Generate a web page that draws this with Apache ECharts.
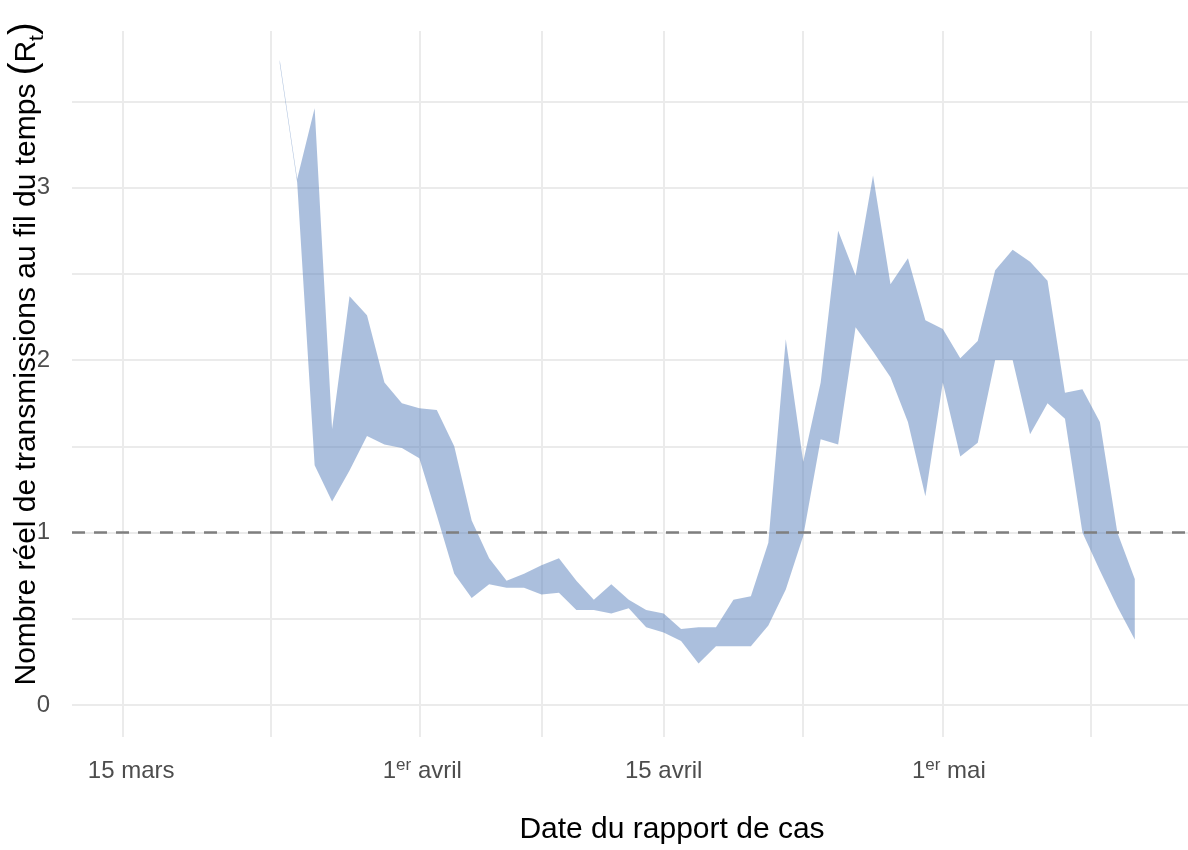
<!DOCTYPE html>
<html>
<head>
<meta charset="utf-8">
<script src="https://cdn.jsdelivr.net/npm/echarts@6/dist/echarts.min.js"></script>
<style>
  html, body { margin: 0; padding: 0; background: #ffffff; }
  #chart { width: 1188px; height: 850px; }
</style>
</head>
<body>
<div id="chart"></div>
<script>
// Daily report dates and the credible band of the effective reproduction number (Rt)
const dates = [
  '2020-03-24', '2020-03-25', '2020-03-26', '2020-03-27', '2020-03-28', '2020-03-29', '2020-03-30', '2020-03-31',
  '2020-04-01', '2020-04-02', '2020-04-03', '2020-04-04', '2020-04-05', '2020-04-06', '2020-04-07', '2020-04-08',
  '2020-04-09', '2020-04-10', '2020-04-11', '2020-04-12', '2020-04-13', '2020-04-14', '2020-04-15', '2020-04-16',
  '2020-04-17', '2020-04-18', '2020-04-19', '2020-04-20', '2020-04-21', '2020-04-22', '2020-04-23', '2020-04-24',
  '2020-04-25', '2020-04-26', '2020-04-27', '2020-04-28', '2020-04-29', '2020-04-30', '2020-05-01', '2020-05-02',
  '2020-05-03', '2020-05-04', '2020-05-05', '2020-05-06', '2020-05-07', '2020-05-08', '2020-05-09', '2020-05-10',
  '2020-05-11', '2020-05-12'
];
const lower = [
  3.72, 3.03, 1.39, 1.18, 1.36, 1.56, 1.51, 1.49,
  1.43, 1.10, 0.76, 0.62, 0.70, 0.68, 0.68, 0.64,
  0.65, 0.55, 0.55, 0.53, 0.56, 0.45, 0.42, 0.37,
  0.24, 0.34, 0.34, 0.34, 0.46, 0.67, 0.98, 1.54,
  1.51, 2.19, 2.05, 1.90, 1.64, 1.21, 1.87, 1.44,
  1.52, 2.00, 2.00, 1.57, 1.75, 1.66, 1.00, 0.78,
  0.57, 0.38
];
const upper = [
  3.74, 3.05, 3.46, 1.60, 2.37, 2.26, 1.87, 1.75,
  1.72, 1.71, 1.50, 1.07, 0.85, 0.72, 0.76, 0.81,
  0.85, 0.72, 0.61, 0.70, 0.61, 0.55, 0.53, 0.44,
  0.45, 0.45, 0.61, 0.63, 0.94, 2.12, 1.41, 1.87,
  2.75, 2.49, 3.07, 2.44, 2.59, 2.23, 2.18, 2.01,
  2.11, 2.52, 2.64, 2.57, 2.46, 1.81, 1.83, 1.64,
  1.00, 0.73
];

// Reference level Rt = 1
const threshold = 1;

// Axis ticks and labels
const xMajorTicks = ['2020-03-15', '2020-04-01', '2020-04-15', '2020-05-01'];
const xMajorLabels = ['{m|15 mars}', '{a|1}{sup|er} avril', '15 avril', '{b|1}{sup|er} mai'];
const xMinorTicks = ['2020-03-23 12:00', '2020-04-08', '2020-04-23', '2020-05-09 11:00'];
const xRange = ['2020-03-12 02:17', '2020-05-15 01:12'];
const yMajorTicks = [0, 1, 2, 3];
const yMinorTicks = [0.5, 1.5, 2.5, 3.5];
const yRange = [-0.186, 3.908];

// Dates are placed on a linear millisecond scale
const parseTime = (s) => +echarts.time.parse(s);
const dateTs = dates.map(parseTime);
const xMajorTs = xMajorTicks.map(parseTime);
const xMinorTs = xMinorTicks.map(parseTime);

const FONT = 'Liberation Sans';
const TICK_COLOR = '#4d4d4d';
const GRID_STYLE = { color: '#ebebeb', width: 2, type: 'solid' };
const tickText = (extra) => Object.assign({ fontSize: 24, fontFamily: FONT, color: TICK_COLOR, lineHeight: 30 }, extra);

const chart = echarts.init(document.getElementById('chart'), null, { renderer: 'canvas' });

chart.setOption({
  animation: false,
  backgroundColor: '#ffffff',
  grid: { left: 72, right: 0, top: 31, bottom: 113, containLabel: false, outerBoundsMode: 'none' },
  xAxis: {
    type: 'value',
    min: parseTime(xRange[0]),
    max: parseTime(xRange[1]),
    axisLine: { show: false },
    axisTick: { show: false, customValues: xMajorTs.concat(xMinorTs) },
    splitLine: { show: true, lineStyle: GRID_STYLE },
    axisLabel: {
      customValues: xMajorTs,
      margin: 19,
      color: TICK_COLOR,
      fontSize: 24,
      lineHeight: 30,
      fontFamily: FONT,
      hideOverlap: false,
      formatter: function (value) {
        const i = xMajorTs.indexOf(+value);
        return i >= 0 ? xMajorLabels[i] : '';
      },
      rich: {
        m: tickText({ padding: [0, 0, 0, 17] }),
        a: tickText({ padding: [0, 0, 0, 6] }),
        b: tickText({ padding: [0, 0, 0, 12] }),
        sup: { fontSize: 17, fontFamily: FONT, color: TICK_COLOR, padding: [0, 0, 12, 0] }
      }
    },
    name: 'Date du rapport de cas',
    nameLocation: 'middle',
    nameGap: 78,
    nameTextStyle: {
      fontSize: 30,
      fontFamily: FONT,
      color: '#000000',
      padding: [0, 0, 0, 84]
    }
  },
  yAxis: {
    type: 'value',
    min: yRange[0],
    max: yRange[1],
    axisLine: { show: false },
    axisTick: { show: false, customValues: yMajorTicks.concat(yMinorTicks) },
    splitLine: { show: true, lineStyle: GRID_STYLE },
    axisLabel: {
      customValues: yMajorTicks,
      margin: 22,
      color: TICK_COLOR,
      fontSize: 24,
      fontFamily: FONT
    },
    name: 'Nombre réel de transmissions au fil du temps {p|(}R{s|t}{p|)}',
    nameLocation: 'middle',
    nameRotate: 90,
    nameGap: 24,
    nameMoveOverlap: false,
    nameTextStyle: {
      fontSize: 30,
      fontFamily: FONT,
      color: '#000000',
      padding: [0, 0, 0, 60],
      rich: {
        p: { fontSize: 38, fontFamily: FONT, color: '#000000', padding: [0, 0, 4, 0] },
        s: { fontSize: 21, fontFamily: FONT, color: '#000000', padding: [20, 0, 0, 0] }
      }
    }
  },
  series: [
    {
      name: 'Rt',
      type: 'custom',
      coordinateSystem: 'cartesian2d',
      silent: true,
      clip: true,
      data: dates.map((d, i) => [dateTs[i], lower[i], upper[i]]),
      encode: { x: 0, y: [1, 2] },
      renderItem: function (params, api) {
        if (params.dataIndex !== 0) return null;
        const points = [];
        for (let i = 0; i < dateTs.length; i++) points.push(api.coord([dateTs[i], upper[i]]));
        for (let i = dateTs.length - 1; i >= 0; i--) points.push(api.coord([dateTs[i], lower[i]]));
        return {
          type: 'polygon',
          shape: { points: points },
          style: { fill: 'rgba(87,127,187,0.5)', stroke: null }
        };
      },
      markLine: {
        silent: true,
        symbol: 'none',
        label: { show: false },
        lineStyle: { color: '#7f7f7f', width: 2.5, type: [13, 9] },
        emphasis: { disabled: true },
        data: [{ yAxis: threshold }]
      }
    }
  ]
});
</script>
</body>
</html>
